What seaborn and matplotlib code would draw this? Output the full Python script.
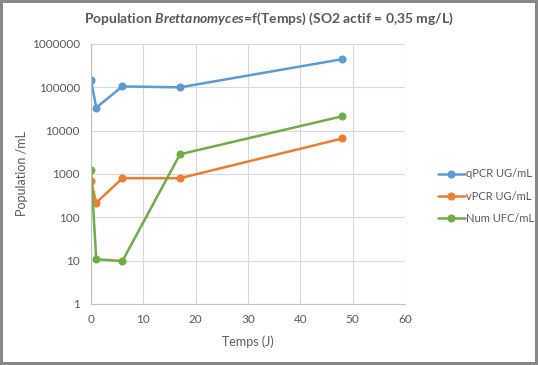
import pandas as pd
import matplotlib.pyplot as plt
import seaborn as sns
from matplotlib.ticker import FixedLocator, FixedFormatter

# Data
jours = [0, 1, 6, 17, 48]
qpcr = [148000, 34000, 105000, 100000, 446000]
vpcr = [680, 217, 800, 800, 6600]
num_ufc = [1240, 10.8, 9.8, 2850, 21500]

series_names = ["qPCR UG/mL", "vPCR UG/mL", "Num UFC/mL"]
series_colors = ["#5B9BD5", "#ED7D31", "#70AD47"]

y_ticks = [1, 10, 100, 1000, 10000, 100000, 1000000]
y_labels = ["1", "10", "100", "1000", "10000", "100000", "1000000"]
x_ticks = [0, 10, 20, 30, 40, 50, 60]


def build_frame():
    rows = []
    for name, values in zip(series_names, [qpcr, vpcr, num_ufc]):
        for j, v in zip(jours, values):
            rows.append({"Temps": j, "Population": v, "Serie": name})
    return pd.DataFrame(rows)


def main():
    sns.set_theme(style="whitegrid")
    plt.rcParams["font.family"] = ["Lato", "DejaVu Sans"]
    plt.rcParams["mathtext.fontset"] = "custom"
    plt.rcParams["mathtext.rm"] = "Lato:bold"
    plt.rcParams["mathtext.it"] = "Lato:bold:italic"

    text_color = "#595959"
    grid_color = "#D9D9D9"

    df = build_frame()

    fig = plt.figure(figsize=(5.38, 3.65), dpi=100)
    fig.patch.set_edgecolor("#878787")
    fig.patch.set_linewidth(3)
    ax = fig.add_axes([91 / 538, 1 - 304 / 365, (405 - 91) / 538, (304 - 44) / 365])

    sns.lineplot(data=df, x="Temps", y="Population", hue="Serie",
                 palette=dict(zip(series_names, series_colors)),
                 marker="o", markersize=5.8, markeredgewidth=0,
                 linewidth=1.8, ax=ax, sort=False)

    ax.set_yscale("log")
    ax.set_ylim(1, 1000000)
    ax.set_xlim(0, 60)
    ax.yaxis.set_major_locator(FixedLocator(y_ticks))
    ax.yaxis.set_major_formatter(FixedFormatter(y_labels))
    ax.yaxis.set_minor_locator(FixedLocator([]))
    ax.set_xticks(x_ticks)

    ax.grid(True, color=grid_color, linewidth=0.8)
    ax.set_facecolor("white")
    for side in ["top", "right"]:
        ax.spines[side].set_visible(False)
    for side in ["left", "bottom"]:
        ax.spines[side].set_visible(True)
        ax.spines[side].set_color("#BFBFBF")
        ax.spines[side].set_linewidth(0.8)

    ax.tick_params(axis="both", length=0, colors=text_color, labelsize=8.5)
    ax.tick_params(axis="y", pad=8)
    ax.tick_params(axis="x", pad=7)

    ax.set_xlabel("Temps (J)", color=text_color, fontsize=9, labelpad=8)
    ax.set_ylabel("Population /mL", color=text_color, fontsize=9)
    ax.yaxis.set_label_coords((28 - 91) / 314, 0.5)

    fig.text(0.5, 1 - 19 / 365,
             r"Population $\mathit{Brettanomyces}$=f(Temps) (SO2 actif = 0,35 mg/L)",
             ha="center", va="center", fontsize=10, fontweight="bold", color=text_color)

    handles, labels = ax.get_legend_handles_labels()
    ax.legend(handles, labels, loc="center left",
              bbox_to_anchor=(428 / 538, 1 - 196 / 365),
              bbox_transform=fig.transFigure, frameon=False,
              fontsize=8, handlelength=2.4, handletextpad=0.1,
              labelspacing=1.0, labelcolor=text_color)

    fig.savefig("out.png", dpi=100, facecolor="white",
                edgecolor=fig.get_edgecolor())


if __name__ == "__main__":
    main()
